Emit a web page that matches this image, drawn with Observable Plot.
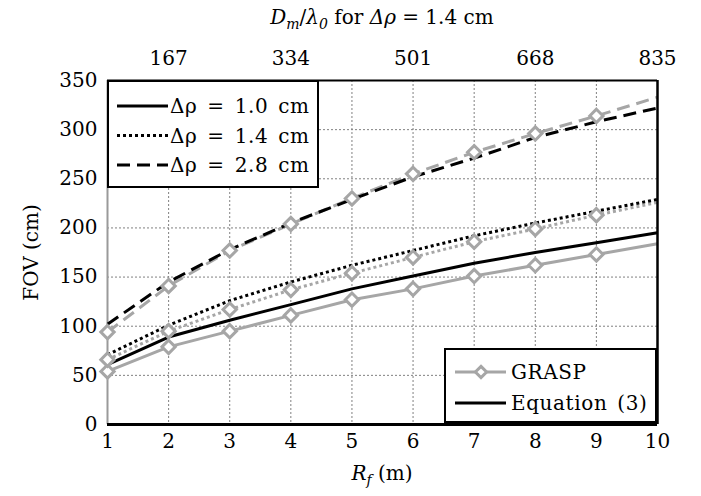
<!DOCTYPE html>
<html>
<head>
<meta charset="utf-8">
<script src="https://cdn.jsdelivr.net/npm/d3@7"></script>
<script src="https://cdn.jsdelivr.net/npm/@observablehq/plot@0.6"></script>
<style>
  html, body { margin: 0; padding: 0; background: #fff; }
  #chart { width: 701px; height: 496px; }
</style>
</head>
<body>
<div id="chart"></div>
<script>
// ---- data ----
const rf = [1, 2, 3, 4, 5, 6, 7, 8, 9, 10];
const eq10 = [61, 89, 106, 122, 138, 151, 164, 175, 185, 195];
const eq14 = [71, 101, 126, 145, 162, 177, 192, 205, 217, 229];
const eq28 = [102, 145, 178, 205, 229, 252, 271, 292, 308, 322];
const gr10 = [54, 79, 95, 111, 127, 138, 151, 162, 173, 184];
const gr14 = [66, 95, 117, 137, 154, 170, 186, 199, 213, 226];
const gr28 = [94, 141, 177, 204, 230, 255, 277, 296, 314, 333];
const markerRf = [1, 2, 3, 4, 5, 6, 7, 8, 9];
const xTicks = [1, 2, 3, 4, 5, 6, 7, 8, 9, 10];
const yTicks = [0, 50, 100, 150, 200, 250, 300, 350];
const topTicks = [2, 4, 6, 8, 10];
const topLabels = ["167", "334", "501", "668", "835"];
const seriesNames = ["Δρ = 1.0 cm", "Δρ = 1.4 cm", "Δρ = 2.8 cm"];

const GRAY = "#a6a6a6";
const FONT = "DejaVu Serif";
const styles = {
  "1.0": { dash: null },
  "1.4": { dash: "3,3" },
  "2.8": { dash: "13,7" }
};

function rows(ys, key, src) {
  return rf.map((x, i) => ({ x, y: ys[i], key, src }));
}
const eqSeries = [rows(eq10, "1.0", "eq"), rows(eq14, "1.4", "eq"), rows(eq28, "2.8", "eq")];
const grSeries = [rows(gr10, "1.0", "gr"), rows(gr14, "1.4", "gr"), rows(gr28, "2.8", "gr")];
const markers = grSeries.flat().filter(d => markerRf.includes(d.x));

const marks = [
  Plot.gridX(xTicks.slice(1, -1), { stroke: "#808080", strokeOpacity: 1, strokeWidth: 1, strokeDasharray: "2,2" }),
  Plot.gridY(yTicks.slice(1, -1), { stroke: "#808080", strokeOpacity: 1, strokeWidth: 1, strokeDasharray: "2,2" }),
  Plot.ruleX([xTicks[0]], { stroke: "#9a9a9a", strokeWidth: 2 }),
];
grSeries.forEach(s => {
  marks.push(Plot.line(s, { x: "x", y: "y", stroke: GRAY, strokeWidth: 3, strokeLinecap: "butt", strokeDasharray: styles[s[0].key].dash }));
});
eqSeries.forEach(s => {
  marks.push(Plot.line(s, { x: "x", y: "y", stroke: "#000", strokeWidth: 3, strokeLinecap: "butt", strokeDasharray: styles[s[0].key].dash }));
});
marks.push(
  Plot.dot(markers, { x: "x", y: "y", symbol: "diamond2", r: 6, stroke: GRAY, strokeWidth: 3, fill: "#fff" }),
  Plot.ruleY([yTicks[0]], { stroke: "#000", strokeWidth: 3 }),
  Plot.ruleY([yTicks[yTicks.length - 1]], { stroke: "#000", strokeWidth: 2 }),
  Plot.ruleX([xTicks[xTicks.length - 1]], { stroke: "#000", strokeWidth: 2.5 }),
  Plot.axisX(xTicks, { anchor: "bottom", tickSize: 0, tickPadding: 9, label: null, fontSize: 20 }),
  Plot.axisY(yTicks, { anchor: "left", tickSize: 0, tickPadding: 10, label: "FOV (cm)", labelAnchor: "center", labelOffset: 84, labelArrow: "none", fontSize: 20 }),
  Plot.axisX(topTicks, { anchor: "top", tickSize: 0, tickPadding: 16, label: null, fontSize: 20, tickFormat: d => topLabels[topTicks.indexOf(d)] })
);

const chart = Plot.plot({
  width: 701,
  height: 496,
  marginTop: 80,
  marginBottom: 72,
  marginLeft: 107,
  marginRight: 44,
  style: { fontFamily: FONT, fontSize: "20px", color: "#000", background: "#fff" },
  x: { domain: [1, 10] },
  y: { domain: [0, 350] },
  marks
});
document.getElementById("chart").appendChild(chart);

// ---- titles and legends ----
const svg = d3.select(chart);
const title = svg.append("text").attr("x", 382).attr("y", 24).attr("text-anchor", "middle")
  .attr("font-family", FONT).attr("font-size", 20).attr("fill", "#000");
title.append("tspan").attr("font-style", "italic").text("D");
title.append("tspan").attr("font-style", "italic").attr("font-size", 14).attr("dy", 5).text("m");
title.append("tspan").attr("dy", -5).text("/");
title.append("tspan").attr("font-style", "italic").text("λ");
title.append("tspan").attr("font-style", "italic").attr("font-size", 14).attr("dy", 5).text("0");
title.append("tspan").attr("dy", -5).text(" for ");
title.append("tspan").attr("font-style", "italic").text("Δρ");
title.append("tspan").text(" = 1.4 cm");

const xl = svg.append("text").attr("x", 382).attr("y", 480).attr("text-anchor", "middle")
  .attr("font-family", FONT).attr("font-size", 20).attr("fill", "#000");
xl.append("tspan").attr("font-style", "italic").text("R");
xl.append("tspan").attr("font-style", "italic").attr("font-size", 14).attr("dy", 5).text("f");
xl.append("tspan").attr("dy", -5).text(" (m)");

const legendText = sel => sel.attr("dy", "0.35em").attr("text-anchor", "start")
  .attr("font-family", FONT).attr("font-size", 20).attr("fill", "#000")
  .attr("letter-spacing", 0.6).attr("word-spacing", 3);

// legend 1 (top-left)
const lg1 = svg.append("g").attr("text-anchor", "start");
lg1.append("rect").attr("x", 108).attr("y", 81).attr("width", 210).attr("height", 106)
  .attr("fill", "#fff").attr("stroke", "#000").attr("stroke-width", 2);
["1.0", "1.4", "2.8"].forEach((k, i) => {
  const yy = 106 + i * 29.5;
  lg1.append("line").attr("x1", 117).attr("x2", 168).attr("y1", yy).attr("y2", yy)
    .attr("stroke", "#000").attr("stroke-width", 3).attr("stroke-dasharray", styles[k].dash);
  lg1.append("text").attr("x", 170).attr("y", yy).call(legendText).text(seriesNames[i]);
});

// legend 2 (bottom-right)
const lg2 = svg.append("g").attr("text-anchor", "start");
lg2.append("rect").attr("x", 445).attr("y", 349).attr("width", 211).attr("height", 73)
  .attr("fill", "#fff").attr("stroke", "#000").attr("stroke-width", 2);
lg2.append("line").attr("x1", 455).attr("x2", 506).attr("y1", 372).attr("y2", 372)
  .attr("stroke", GRAY).attr("stroke-width", 3);
lg2.append("path").attr("d", d3.symbol(d3.symbolDiamond2, 80)()).attr("transform", "translate(481,372)")
  .attr("fill", "#fff").attr("stroke", GRAY).attr("stroke-width", 3);
lg2.append("text").attr("x", 511).attr("y", 372).call(legendText).text("GRASP");
lg2.append("line").attr("x1", 455).attr("x2", 506).attr("y1", 403).attr("y2", 403)
  .attr("stroke", "#000").attr("stroke-width", 3);
lg2.append("text").attr("x", 511).attr("y", 403).call(legendText).text("Equation (3)");
</script>
</body>
</html>
